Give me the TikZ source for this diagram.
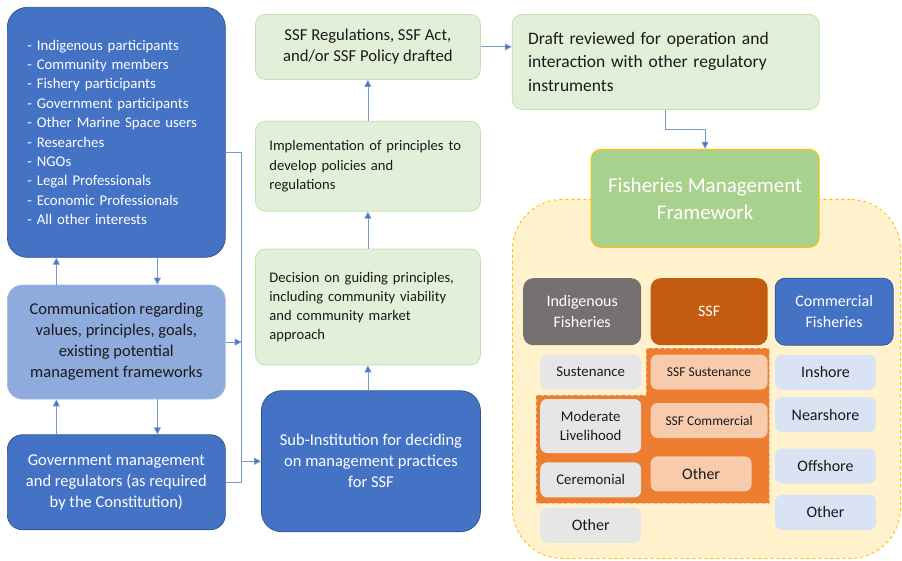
\documentclass[tikz,border=0pt]{standalone}
\usepackage{fontspec}
\setmainfont{Carlito}
\usetikzlibrary{positioning, arrows.meta}

\definecolor{msblue}{HTML}{4472C4}
\definecolor{msbluedark}{HTML}{2F528F}
\definecolor{mslightblue}{HTML}{8FAADC}
\definecolor{mspaleblue}{HTML}{DAE3F3}
\definecolor{msgreen}{HTML}{E2F0D9}
\definecolor{msgreenline}{HTML}{C5E0B4}
\definecolor{msleaf}{HTML}{A9D18E}
\definecolor{msgold}{HTML}{FFC000}
\definecolor{mscream}{HTML}{FFF2CC}
\definecolor{msgray}{HTML}{767171}
\definecolor{mslightgray}{HTML}{E7E6E6}
\definecolor{msorange}{HTML}{C55A11}
\definecolor{msbrightorange}{HTML}{ED7D31}
\definecolor{mspeach}{HTML}{F8CBAD}
\definecolor{mstext}{HTML}{1A1A1A}

\newcommand\setfs[2]{\fontsize{#1}{#2}\selectfont}

\begin{document}
\begin{tikzpicture}[
    x=1pt, y=-1pt,
    box/.style={
        rectangle, rounded corners=10pt,
        inner sep=0pt, align=center,
        text=mstext
    },
    bluebox/.style={
        box, fill=msblue, draw=msbluedark, line width=0.7pt,
        text=white, font=\setfs{16.5}{21}
    },
    commbox/.style={
        box, rounded corners=15pt, fill=mslightblue, draw=mslightblue!80!white,
        line width=0.7pt, font=\setfs{16.5}{21}
    },
    greenbox/.style={
        box, fill=msgreen, draw=msgreenline, line width=0.8pt,
        font=\setfs{16.7}{21}
    },
    fmfbox/.style={
        box, fill=msleaf, draw=msgold, line width=1pt,
        text=white, font=\setfs{21}{27}
    },
    zone/.style={
        rectangle, rounded corners=50pt, fill=mscream,
        draw=msgold, dashed, line width=0.9pt
    },
    headbox/.style={
        box, minimum width=118pt, minimum height=67pt,
        text=white, font=\setfs{16}{21}
    },
    indbox/.style={
        box, rounded corners=7pt, fill=mslightgray,
        minimum width=101pt, minimum height=35pt, font=\setfs{14.8}{19}
    },
    ssfbox/.style={
        box, rounded corners=7pt, fill=mspeach,
        minimum width=117pt, minimum height=35pt, font=\setfs{13.5}{17}
    },
    combox/.style={
        box, rounded corners=7pt, fill=mspaleblue,
        minimum width=101pt, minimum height=35pt, font=\setfs{16}{20}
    },
    link/.style={draw=mslightblue!70!msblue, line width=0.8pt},
    arrow/.style={link, -{Triangle[length=7pt, width=7pt, fill=msblue]}}
]

\useasboundingbox (0,0) rectangle (902,561);

% Stakeholder column
\node[bluebox, rounded corners=20pt, anchor=north west,
      text width=178pt, inner xsep=20pt, minimum height=250pt,
      align=left, font=\setfs{14.8}{19.4}] (stake) at (7,7) {%
- Indigenous participants\\
- Community members\\
- Fishery participants\\
- Government participants\\
- Other Marine Space users\\
- Researches\\
- NGOs\\
- Legal Professionals\\
- Economic Professionals\\
- All other interests
};

\node[commbox, below=27pt of stake, minimum width=218pt, minimum height=114pt] (comm) {%
Communication regarding\\
values, principles, goals,\\
existing potential\\
management frameworks
};

\node[bluebox, rounded corners=15pt, below=35pt of comm,
      minimum width=218pt, minimum height=95pt] (gov) {%
Government management\\
and regulators (as required\\
by the Constitution)
};

% Drafting column
\node[greenbox, anchor=north west, minimum width=225pt, minimum height=65pt] (regs) at (255,14) {%
SSF Regulations, SSF Act,\\
and/or SSF Policy drafted
};

\node[greenbox, below=41pt of regs, text width=197pt, inner xsep=14pt,
      minimum height=90pt, align=left, font=\setfs{14.6}{19.5}] (impl) {%
Implementation of principles to\\
develop policies and\\
regulations
};

\node[greenbox, below=37pt of impl, text width=197pt, inner xsep=14pt,
      minimum height=116pt, align=left, font=\setfs{14.6}{19.2}] (decide) {%
Decision on guiding principles,\\
including community viability\\
and community market\\
approach
};

\node[bluebox, rounded corners=20pt, below=25pt of decide.south east, anchor=north east,
      minimum width=219pt, minimum height=141pt] (subinst) {%
Sub-Institution for deciding\\
on management practices\\
for SSF
};

% Review and framework
\node[greenbox, right=31pt of regs.north east, anchor=north west, text width=275pt,
      inner xsep=16pt, minimum height=95pt, align=left, font=\setfs{17.5}{23.3}] (draft) {%
Draft reviewed for operation and\\
interaction with other regulatory\\
instruments
};

\node[zone, anchor=north west, minimum width=388pt, minimum height=359pt] (zone) at (512,199) {};

\node[fmfbox, below=39pt of draft.south east, anchor=north east,
      minimum width=228pt, minimum height=98pt] (fmf) {%
Fisheries Management\\
Framework
};

% Fishery categories
\node[headbox, fill=msgray, anchor=north west] (indig) at (523,278) {Indigenous\\Fisheries};
\node[headbox, fill=msorange, right=9pt of indig, minimum width=117pt] (ssf) {SSF};
\node[headbox, fill=msblue, draw=msbluedark, line width=0.7pt, right=7pt of ssf] (cfish) {Commercial\\Fisheries};

% overlap of indigenous and SSF
\filldraw[fill=msbrightorange, draw=mspeach!80!msbrightorange, dashed, line width=0.8pt]
    (646,348) -- (769,348) -- (769,503) -- (536,503) -- (536,395) -- (646,395) -- cycle;

\node[indbox, below=9pt of indig.south east, anchor=north east] (sust) {Sustenance};
\node[indbox, below=9pt of sust, minimum height=54pt] (livelihood) {Moderate\\Livelihood};
\node[indbox, below=9pt of livelihood] (cerem) {Ceremonial};
\node[indbox, below=10pt of cerem, font=\setfs{16}{20}] (iother) {Other};

\node[ssfbox, below=9pt of ssf] (ssfsust) {SSF Sustenance};
\node[ssfbox, below=13pt of ssfsust] (ssfcomm) {SSF Commercial};
\node[ssfbox, below=18pt of ssfcomm.south west, anchor=north west,
      minimum width=101pt, font=\setfs{16}{20}] (ssfother) {Other};

\node[combox, below=9pt of cfish.south west, anchor=north west] (inshore) {Inshore};
\node[combox, below=7pt of inshore] (nearshore) {Nearshore};
\node[combox, below=16pt of nearshore] (offshore) {Offshore};
\node[combox, below=11pt of offshore] (cother) {Other};

% Arrows
\draw[arrow] ([xshift=-60pt]comm.north) -- ([xshift=-60pt]stake.south);
\draw[arrow] ([xshift=41pt]stake.south) -- ([xshift=41pt]comm.north);
\draw[arrow] ([xshift=-60pt]gov.north) -- ([xshift=-60pt]comm.south);
\draw[arrow] ([xshift=41pt]comm.south) -- ([xshift=41pt]gov.north);

\draw[link] ([yshift=-20pt]stake.east) -- ++(16,0) coordinate (bus) |- (gov.east);
\draw[arrow] (comm.east) -- (comm.east -| bus);
\draw[arrow] (bus |- subinst.west) -- (subinst.west);

\draw[arrow] (decide.south |- subinst.north) -- (decide.south);
\draw[arrow] (decide) -- (impl);
\draw[arrow] (impl) -- (regs);
\draw[arrow] (regs.east) -- (regs.east -| draft.west);
\draw[arrow] (draft.south) -- ++(0,20) -| (fmf.north);

\end{tikzpicture}
\end{document}
